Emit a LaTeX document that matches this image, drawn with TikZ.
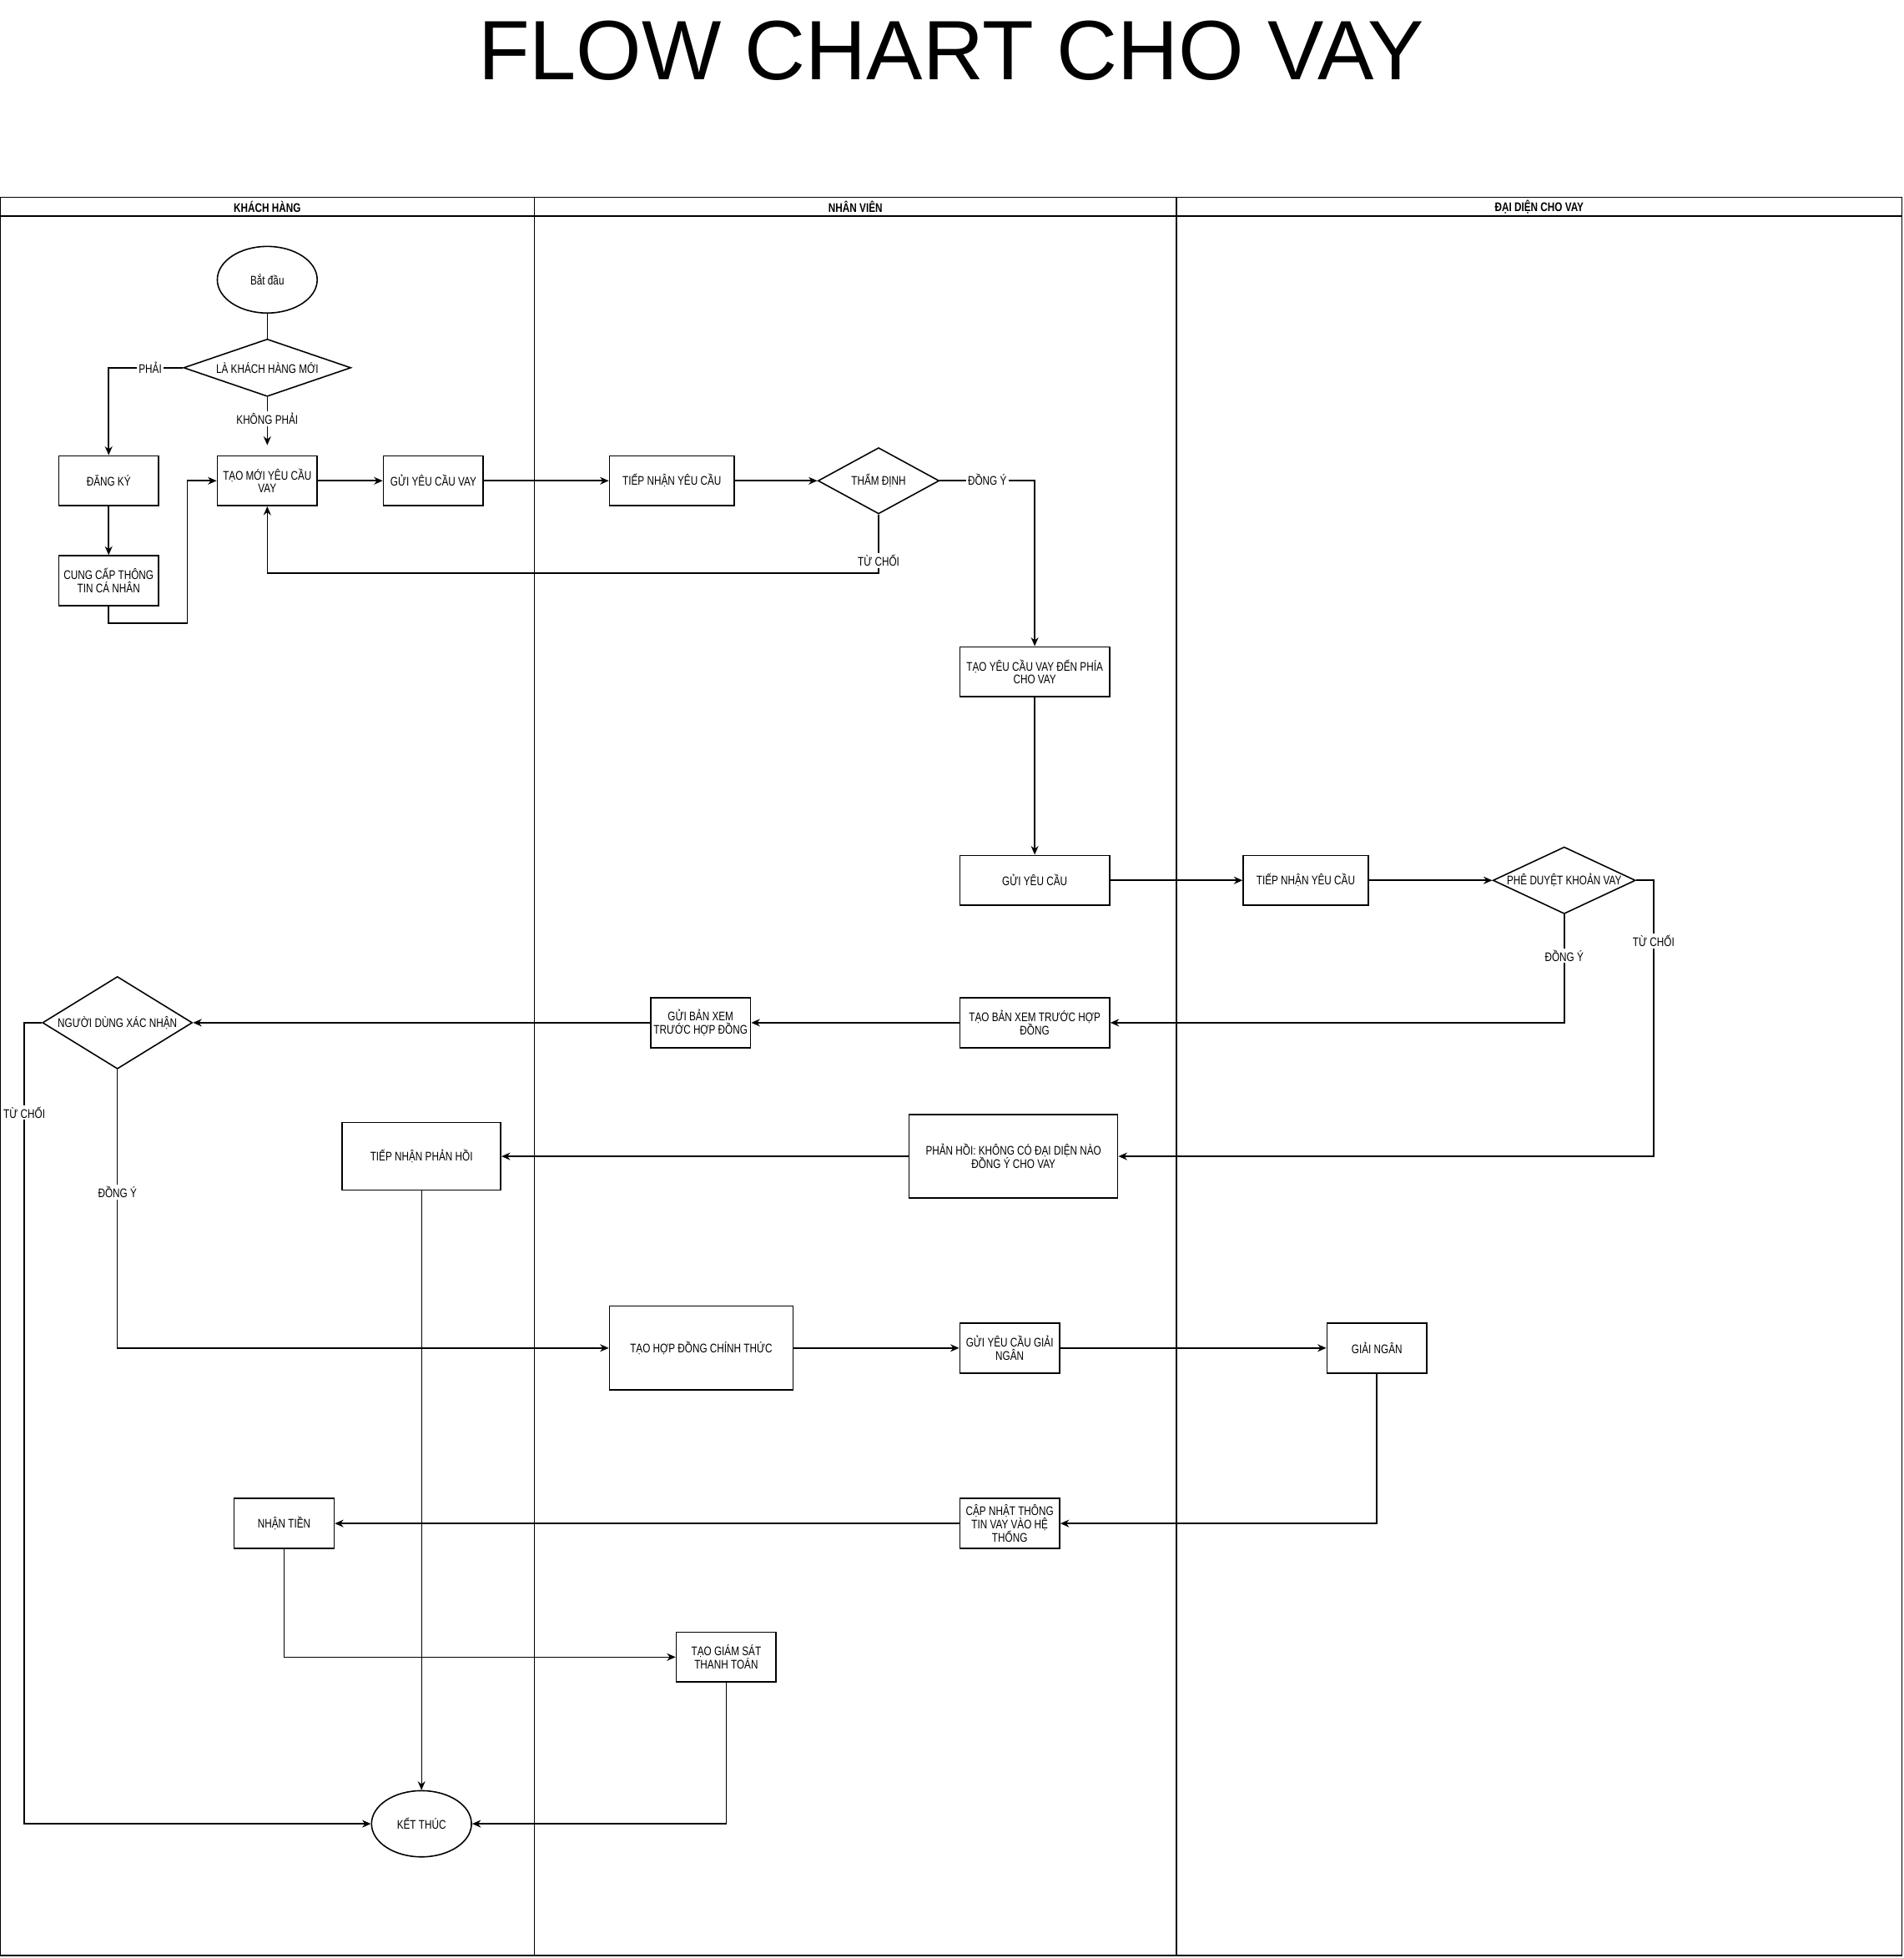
\documentclass[tikz,border=0pt]{standalone}
\usepackage{fontspec}
\setmainfont{Liberation Sans}
\newfontfamily\narrowfont[FakeStretch=0.785]{Liberation Sans}
\newcommand{\flowsize}{\fontsize{4.27pt}{4.45pt}\selectfont\lineskiplimit=-10pt\relax}
\usetikzlibrary{shapes.geometric,arrows.meta}

\begin{document}
\begin{tikzpicture}[
   x=0.015cm,y=-0.015cm,
   font=\narrowfont\flowsize,
   box/.style={draw,line width=0.45pt,inner sep=0pt,align=center,minimum width=1.2cm,minimum height=0.6cm},
   midbox/.style={box,minimum width=1.5cm},
   widebox/.style={box,minimum width=1.8cm},
   decide/.style={draw,diamond,line width=0.45pt,inner sep=0pt,align=center},
   term/.style={draw,ellipse,line width=0.45pt,inner sep=0pt,align=center,minimum width=1.2cm,minimum height=0.8cm},
   head/.style={font=\narrowfont\flowsize\bfseries},
   pool/.style={line width=0.45pt},
   to/.style={-{Stealth[length=0.105cm,width=0.09cm]},line width=0.45pt},
   lbl/.style={fill=white,inner sep=0.6pt}]
\useasboundingbox (0,0) rectangle (1524,1568);
\node[anchor=base,font=\fontsize{28.8pt}{32pt}\selectfont] (title) at (761.5,64) {FLOW CHART CHO VAY};
\draw[pool] (0,158) rectangle (1523,1566);
\draw[pool] (0,173) -- (1523,173);
\draw[pool] (428,158) -- (428,1566);
\draw[pool] (942,158) -- (942,1566);
\node[head] (laneA) at (214,165.5) {KHÁCH HÀNG};
\node[head] (laneB) at (685,165.5) {NHÂN VIÊN};
\node[head] (laneC) at (1232.5,165.5) {ĐẠI DIỆN CHO VAY};
\node[term] (start) at (214,224) {Bắt đầu};
\node[decide,aspect=2.91,minimum width=2.01cm,minimum height=0.69cm] (isnew) at (214,294.5) {LÀ KHÁCH HÀNG MỚI};
\node[box] (dangky) at (87,385) {ĐĂNG KÝ};
\node[box] (cungcap) at (87,465) {CUNG CẤP THÔNG\\TIN CÁ NHÂN};
\node[box] (taomoi) at (214,385) {TẠO MỚI YÊU CẦU\\VAY};
\node[box] (guivay) at (347,385) {GỬI YÊU CẦU VAY};
\node[midbox] (nhan1) at (538,385) {TIẾP NHẬN YÊU CẦU};
\node[decide,aspect=1.83,minimum width=1.455cm,minimum height=0.795cm] (thamdinh) at (703.5,385) {THẨM ĐỊNH};
\node[widebox] (taoyc) at (828.5,538) {TẠO YÊU CẦU VAY ĐẾN PHÍA\\CHO VAY};
\node[widebox] (guiyc) at (828.5,705) {GỬI YÊU CẦU};
\node[midbox] (nhan2) at (1045.5,705) {TIẾP NHẬN YÊU CẦU};
\node[decide,aspect=2.13,minimum width=1.695cm,minimum height=0.795cm] (pheduyet) at (1252.5,705) {PHÊ DUYỆT KHOẢN VAY};
\node[widebox] (taoban) at (828.5,819) {TẠO BẢN XEM TRƯỚC HỢP\\ĐỒNG};
\node[box] (guiban) at (561,819) {GỬI BẢN XEM\\TRƯỚC HỢP ĐỒNG};
\node[decide,aspect=1.62,minimum width=1.8cm,minimum height=1.11cm] (xacnhan) at (94,819) {NGƯỜI DÙNG XÁC NHẬN};
\node[box,minimum width=2.505cm,minimum height=1.005cm] (phanhoi) at (811.5,926) {PHẢN HỒI: KHÔNG CÓ ĐẠI DIỆN NÀO\\ĐỒNG Ý CHO VAY};
\node[box,minimum width=1.905cm,minimum height=0.81cm] (nhanph) at (337.5,926) {TIẾP NHẬN PHẢN HỒI};
\node[box,minimum width=2.205cm,minimum height=1.005cm] (hopdong) at (561.5,1079.5) {TẠO HỢP ĐỒNG CHÍNH THỨC};
\node[box] (guign) at (808.5,1079.5) {GỬI YÊU CẦU GIẢI\\NGÂN};
\node[box] (giaingan) at (1102.5,1079.5) {GIẢI NGÂN};
\node[box] (capnhat) at (808.5,1220) {CẬP NHẬT THÔNG\\TIN VAY VÀO HỆ\\THỐNG};
\node[box] (nhantien) at (227.5,1220) {NHẬN TIỀN};
\node[box] (giamsat) at (581.5,1327) {TẠO GIÁM SÁT\\THANH TOÁN};
\node[term,minimum height=0.795cm] (ketthuc) at (337.5,1460.5) {KẾT THÚC};
\draw[line width=0.45pt] (start.south) -- (isnew.north);
\draw[to] (isnew.west) -| node[lbl,pos=0.22] {PHẢI} (dangky.north);
\draw[to,shorten >=0.12cm] (isnew.south) -- node[lbl,pos=0.37] {KHÔNG PHẢI} (taomoi.north);
\draw[to] (dangky) -- (cungcap);
\draw[to] (cungcap.south) -- ++(0,13.5) -- ++(63,0) |- (taomoi.west);
\draw[to] (taomoi) -- (guivay);
\draw[to] (guivay) -- (nhan1);
\draw[to] (nhan1) -- (thamdinh);
\draw[to] (thamdinh.east) -| node[lbl,pos=0.25,yshift=0.3pt] {ĐỒNG Ý} (taoyc.north);
\draw[to] (thamdinh.south) -- node[lbl,pos=0.79] {TỪ CHỐI} ++(0,47) -| (taomoi.south);
\draw[to] (taoyc) -- (guiyc);
\draw[to] (guiyc) -- (nhan2);
\draw[to] (nhan2) -- (pheduyet);
\draw[to] (pheduyet.south) |- node[lbl,pos=0.19] {ĐỒNG Ý} (taoban.east);
\draw[to] (pheduyet.east) -- ++(14,0) |- node[lbl,pos=0.11] {TỪ CHỐI} (phanhoi.east);
\draw[to] (taoban) -- (guiban);
\draw[to] (guiban) -- (xacnhan);
\draw[to] (xacnhan.west) -- ++(-14,0) |- node[lbl,pos=0.056] {TỪ CHỐI} (ketthuc.west);
\draw[to] (xacnhan.south) |- node[lbl,pos=0.22] {ĐỒNG Ý} (hopdong.west);
\draw[to] (phanhoi) -- (nhanph);
\draw[to,line width=0.3pt] (nhanph) -- (ketthuc);
\draw[to] (hopdong) -- (guign);
\draw[to] (guign) -- (giaingan);
\draw[to] (giaingan.south) |- (capnhat.east);
\draw[to] (capnhat) -- (nhantien);
\draw[to] (nhantien.south) |- (giamsat.west);
\draw[to] (giamsat.south) |- (ketthuc.east);
\end{tikzpicture}
\end{document}
